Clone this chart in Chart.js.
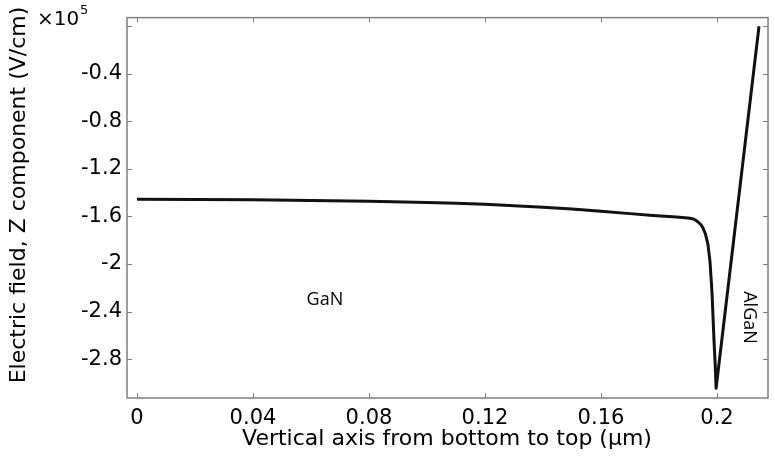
<!DOCTYPE html>
<html>
<head>
<meta charset="utf-8">
<script src="https://cdn.jsdelivr.net/npm/chart.js@4/dist/chart.umd.min.js"></script>
<style>
  html, body { margin: 0; padding: 0; background: #fff; }
  #wrap { width: 775px; height: 457px; }
</style>
</head>
<body>
<div id="wrap"><canvas id="c"></canvas></div>
<script>
// position along the vertical axis (um) and Ez (x1e5 V/cm)
const depth = [0, 0.02, 0.04, 0.06, 0.08, 0.1, 0.11, 0.12, 0.13, 0.14, 0.15, 0.16, 0.17, 0.178,
               0.186, 0.19, 0.1915, 0.1925, 0.1935, 0.1945, 0.1952, 0.196, 0.1969, 0.1976,
               0.1983, 0.199, 0.1994, 0.1997, 0.2145];
const field = [-1.455, -1.457, -1.460, -1.466, -1.472, -1.482, -1.489, -1.498, -1.509, -1.522,
               -1.537, -1.556, -1.576, -1.592, -1.605, -1.613, -1.619, -1.629, -1.646, -1.670,
               -1.698, -1.745, -1.837, -1.98, -2.245, -2.653, -2.85, -3.045, 0.0];

const xTicks = [0, 0.04, 0.08, 0.12, 0.16, 0.2];
const yTicks = [0, -0.4, -0.8, -1.2, -1.6, -2, -2.4, -2.8];

const regionLabels = [
  { text: 'GaN', x: 0.0648, y: -2.30, rotate: 0 },
  { text: 'AlGaN', x: 0.211, y: -2.45, rotate: Math.PI / 2 }
];

const FONT = "'DejaVu Sans', sans-serif";
const BOX = '#7f7f7f';

const frame = {
  id: 'frame',
  afterDraw(chart) {
    const { ctx, chartArea: a, scales } = chart;
    ctx.save();
    ctx.strokeStyle = BOX;
    ctx.lineWidth = 1.5;
    ctx.strokeRect(a.left, a.top, a.right - a.left, a.bottom - a.top);
    ctx.lineWidth = 1;
    const len = 5;
    ctx.beginPath();
    xTicks.forEach(v => {
      const px = Math.round(scales.x.getPixelForValue(v)) + 0.5;
      ctx.moveTo(px, a.bottom); ctx.lineTo(px, a.bottom - len);
      ctx.moveTo(px, a.top); ctx.lineTo(px, a.top + len);
    });
    yTicks.forEach(v => {
      const py = Math.round(scales.y.getPixelForValue(v)) + 0.5;
      ctx.moveTo(a.left, py); ctx.lineTo(a.left + len, py);
      ctx.moveTo(a.right, py); ctx.lineTo(a.right - len, py);
    });
    ctx.stroke();

    // region labels
    ctx.fillStyle = '#000';
    ctx.font = "18px 'Open Sans', sans-serif";
    ctx.textAlign = 'center';
    ctx.textBaseline = 'middle';
    regionLabels.forEach(l => {
      ctx.save();
      ctx.translate(scales.x.getPixelForValue(l.x), scales.y.getPixelForValue(l.y));
      ctx.rotate(l.rotate);
      ctx.fillText(l.text, 0, 0);
      ctx.restore();
    });

    // axis titles
    ctx.font = '22px ' + FONT;
    ctx.fillText('Vertical axis from bottom to top (\u03bcm)', 447, 439);
    ctx.save();
    ctx.translate(19, 195);
    ctx.rotate(-Math.PI / 2);
    ctx.fillText('Electric field, Z component (V/cm)', 0, 0);
    ctx.restore();

    // multiplier
    ctx.textAlign = 'left';
    ctx.font = '20px ' + FONT;
    ctx.fillText('\u00d710', 37, 20);
    ctx.font = '13px ' + FONT;
    ctx.fillText('5', 80, 11);
    ctx.restore();
  }
};

new Chart(document.getElementById('c'), {
  type: 'line',
  data: {
    datasets: [{
      data: depth.map((d, i) => ({ x: d, y: field[i] })),
      borderColor: '#111',
      borderWidth: 3,
      pointRadius: 0,
      tension: 0,
      borderJoinStyle: 'round',
      fill: false
    }]
  },
  options: {
    responsive: true,
    maintainAspectRatio: false,
    animation: false,
    layout: { padding: { top: 6, right: 7, left: 0, bottom: 0 } },
    plugins: { legend: { display: false }, tooltip: { enabled: false } },
    scales: {
      x: {
        type: 'linear',
        min: -0.00345,
        max: 0.2176,
        afterBuildTicks: s => { s.ticks = xTicks.map(v => ({ value: v })); },
        afterFit: s => { s.height = 59; },
        grid: { display: false, drawTicks: false },
        border: { display: false },
        ticks: {
          color: '#000',
          font: { family: FONT, size: 21 },
          padding: 8,
          maxRotation: 0,
          callback: v => String(parseFloat(v.toFixed(2)))
        }
      },
      y: {
        type: 'linear',
        min: -3.127,
        max: 0.073,
        afterBuildTicks: s => { s.ticks = yTicks.map(v => ({ value: v })); },
        afterFit: s => { s.width = 127; },
        grid: { display: false, drawTicks: false },
        border: { display: false },
        ticks: {
          color: '#000',
          font: { family: FONT, size: 21 },
          padding: 5,
          callback: v => v === 0 ? '' : String(parseFloat(v.toFixed(1)))
        }
      }
    }
  },
  plugins: [frame]
});
</script>
</body>
</html>
